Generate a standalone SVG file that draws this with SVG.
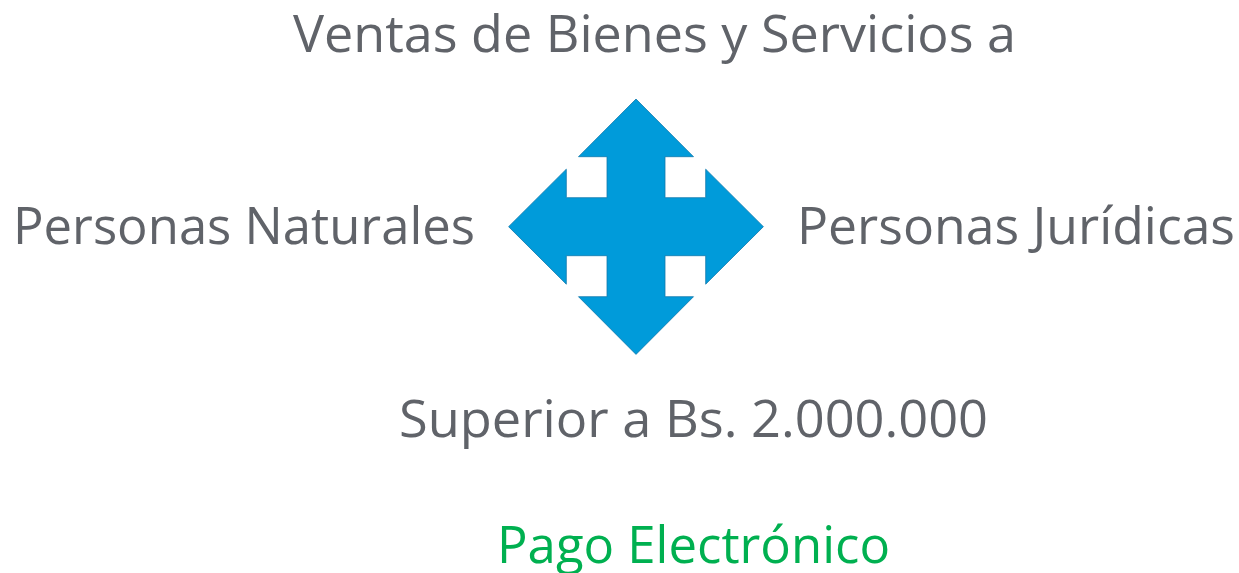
<svg xmlns="http://www.w3.org/2000/svg" width="1239" height="573" viewBox="0 0 1239 573">
<style>
.t{font-family:"Open Sans","Liberation Sans",sans-serif;font-size:52px;fill:#606369}
.g{fill:#00B050}
.arrow{fill:#009BDA;stroke:#1279AC;stroke-width:0.8}
</style>
<rect width="1239" height="573" fill="#FFFFFF"/>
<g id="arrow">
<path class="arrow" d="M636,99 L693.5,156.7 L665,156.7 L665,197.7 L705.7,197.7 L705.7,169.2 L763.4,226.7 L705.7,284.2 L705.7,255.7 L665,255.7 L665,296.7 L693.5,296.7 L636,354.4 L578.5,296.7 L607,296.7 L607,255.7 L566.3,255.7 L566.3,284.2 L508.6,226.7 L566.3,169.2 L566.3,197.7 L607,197.7 L607,156.7 L578.5,156.7 Z"/>
</g>
<g id="title"><text class="t" x="293" y="52" textLength="723" lengthAdjust="spacingAndGlyphs">Ventas de Bienes y Servicios a</text></g>
<g id="naturales"><text class="t" x="13" y="244" textLength="462" lengthAdjust="spacingAndGlyphs">Personas Naturales</text></g>
<g id="juridicas"><text class="t" x="797" y="244" textLength="438" lengthAdjust="spacingAndGlyphs">Personas Jurídicas</text></g>
<g id="superior"><text class="t" x="399" y="437" textLength="589" lengthAdjust="spacingAndGlyphs">Superior a Bs. 2.000.000</text></g>
<g id="pago"><text class="t g" x="497" y="563" textLength="393" lengthAdjust="spacingAndGlyphs">Pago Electrónico</text></g>
<g id="connectors"></g>
</svg>
